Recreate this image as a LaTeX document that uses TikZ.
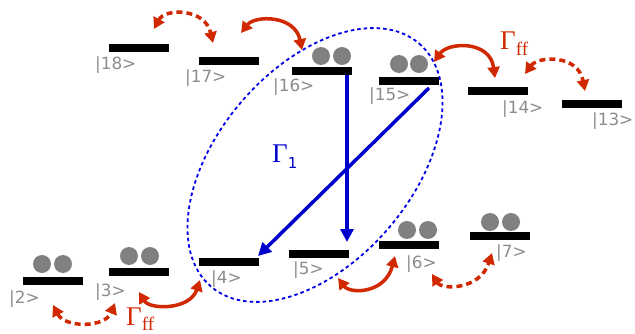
\documentclass[tikz,border=0pt]{standalone}
\usepackage{fontspec}
\setmainfont{DejaVu Sans}
\newfontfamily\gserif{Liberation Serif}
\usetikzlibrary{arrows.meta}
\definecolor{lvlred}{HTML}{D02800}
\definecolor{lvlblue}{HTML}{0000CC}
\definecolor{ellblue}{HTML}{0000E6}
\definecolor{ballgray}{HTML}{808080}
\definecolor{labgray}{HTML}{8C8C8C}
\begin{document}
\begin{tikzpicture}[x=1pt,y=-1pt,
  level/.style={fill=black, minimum width=60pt, minimum height=8pt, inner sep=0pt, outer sep=0pt},
  ball/.style={circle, fill=ballgray, minimum size=18pt, inner sep=0pt},
  lab/.style={anchor=base west, inner sep=0pt, text=labgray, font=\fontsize{16.8}{17}\selectfont},
  hop/.style={draw=lvlred, line width=3.5pt, {Triangle[length=11pt,width=12pt]}-{Triangle[length=11pt,width=12pt]}},
  hopd/.style={hop, dash pattern=on 6pt off 4pt},
  decay/.style={draw=lvlblue, line width=3.5pt, -{Triangle[length=13pt,width=13pt]}},
  gam/.style={anchor=base west, inner sep=0pt},
]
\useasboundingbox (0,0) rectangle (635,334);

% levels
\node[level] (s18) at (139,48) {};
\node[level] (s17) at (229,61) {};
\node[level] (s16) at (322,71) {};
\node[level] (s15) at (409,81) {};
\node[level] (s14) at (498,91) {};
\node[level] (s13) at (592,104) {};
\node[level] (s2) at (53,281) {};
\node[level] (s3) at (139,272) {};
\node[level] (s4) at (229,262) {};
\node[level] (s5) at (319,254) {};
\node[level] (s6) at (409,245) {};
\node[level] (s7) at (500,236) {};

% labels
\node[lab] (l18) at (95,70) {|18>};
\node[lab] (l17) at (185,83) {|17>};
\node[lab] (l16) at (273,92) {|16>};
\node[lab] (l15) at (369,101) {|15>};
\node[lab] (l14) at (502,114) {|14>};
\node[lab] (l13) at (592,126) {|13>};
\node[lab] (l2) at (9,303) {|2>};
\node[lab] (l3) at (95,296) {|3>};
\node[lab] (l4) at (211,283) {|4>};
\node[lab] (l5) at (293,274) {|5>};
\node[lab] (l6) at (406,268) {|6>};
\node[lab] (l7) at (496,257) {|7>};

% balls
\node[ball] (b16a) at (321,56) {};
\node[ball] (b16b) at (342,56) {};
\node[ball] (b15a) at (399,64) {};
\node[ball] (b15b) at (419,64) {};
\node[ball] (b6a) at (407,230) {};
\node[ball] (b6b) at (428,230) {};
\node[ball] (b7a) at (490,222) {};
\node[ball] (b7b) at (511,222) {};
\node[ball] (b3a) at (129,256) {};
\node[ball] (b3b) at (150,256) {};
\node[ball] (b2a) at (42,264) {};
\node[ball] (b2b) at (63,264) {};

% ellipse
\draw[ellblue, line width=1.8pt, dash pattern=on 3.5pt off 3pt]
  (315,165) ellipse [x radius=160, y radius=97, rotate=49.4];

% blue decays
\draw[decay] ([xshift=25pt]s16.south) -- ([xshift=28pt,yshift=8pt]s5.north);
\draw[decay] ([xshift=20pt,yshift=-3pt]s15.south) -- ([xshift=-1pt,yshift=2pt]s4.north east);

% red hopping arrows
\coordinate (h1a) at (241,33);  \coordinate (h1b) at (302,50);
\coordinate (h2a) at (434,62);  \coordinate (h2b) at (495,78);
\coordinate (h3a) at (139,292); \coordinate (h3b) at (200,280);
\coordinate (h4a) at (338,278); \coordinate (h4b) at (395,256);
\coordinate (d1a) at (154,29);  \coordinate (d1b) at (213,43);
\coordinate (d2a) at (525,74);  \coordinate (d2b) at (585,91);
\coordinate (d3a) at (53,305);  \coordinate (d3b) at (115,303);
\coordinate (d4a) at (432,274); \coordinate (d4b) at (492,253);

\draw[hop] (h1a) .. controls (255,15) and (295,15) .. (h1b);
\draw[hop] (h2a) .. controls (448,42) and (490,40) .. (h2b);
\draw[hop] (h3a) .. controls (150,310) and (190,310) .. (h3b);
\draw[hop] (h4a) .. controls (350,294) and (385,294) .. (h4b);
\draw[hopd] (d1a) .. controls (165,8) and (205,8) .. (d1b);
\draw[hopd] (d2a) .. controls (538,56) and (578,54) .. (d2b);
\draw[hopd] (d3a) .. controls (65,328) and (105,328) .. (d3b);
\draw[hopd] (d4a) .. controls (442,290) and (480,290) .. (d4b);

% Gamma labels
\node[gam, text=lvlblue] (g1) at (272,163)
  {\fontsize{27}{27}\gserif Γ\raisebox{-6pt}{\normalfont\fontsize{15}{15}\selectfont 1}};
\node[gam, text=lvlred] (gff1) at (500,50)
  {\fontsize{27}{27}\gserif Γ\raisebox{-6pt}{\fontsize{19}{19}\selectfont ff}};
\node[gam, text=lvlred] (gff2) at (126,325)
  {\fontsize{27}{27}\gserif Γ\raisebox{-5pt}{\fontsize{19}{19}\selectfont ff}};
\end{tikzpicture}
\end{document}
